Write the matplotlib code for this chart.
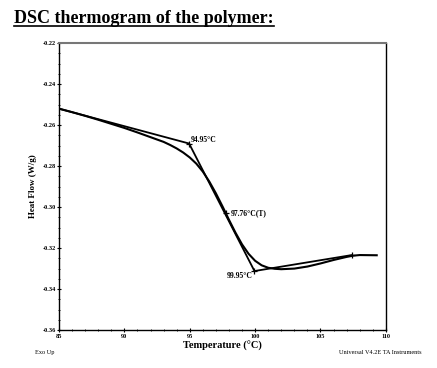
import numpy as np
import matplotlib.pyplot as plt
from matplotlib.ticker import MultipleLocator

# DSC curve
temp = [85, 86, 87, 88, 89, 90, 91, 92, 93, 93.5, 94, 94.5, 95, 95.5, 96, 96.5,
        97, 97.5, 97.76, 98, 98.5, 99, 99.5, 100, 100.5, 101, 101.5, 102, 103,
        104, 105, 106, 107, 107.5, 108, 109.3]
heat = [-0.2520, -0.2537, -0.2555, -0.2574, -0.2594, -0.2614, -0.2636, -0.2659,
        -0.2682, -0.2697, -0.2714, -0.2734, -0.2758, -0.2788, -0.2827, -0.2876,
        -0.2933, -0.2996, -0.3030, -0.3062, -0.3125, -0.3182, -0.3228, -0.3262,
        -0.3284, -0.3296, -0.3301, -0.3303, -0.3300, -0.3290, -0.3275, -0.3258,
        -0.3243, -0.3237, -0.3234, -0.3235]

# tangent construction
tan_x = [85, 94.95, 99.95, 107.4]
tan_y = [-0.2520, -0.2690, -0.3312, -0.3234]
onset_x, onset_y = 94.95, -0.2690
mid_x, mid_y = 97.76, -0.3030
end_x, end_y = 99.95, -0.3312
mark_x, mark_y = 107.4, -0.3234

plt.rcParams['font.family'] = ['Liberation Serif', 'DejaVu Serif']

fig = plt.figure(figsize=(4.37, 3.68), dpi=100)
ax = fig.add_axes([0.135, 0.103, 0.748, 0.780])

ax.plot(temp, heat, color='black', lw=1.5)
ax.plot(tan_x, tan_y, color='black', lw=1.3)
ax.plot([onset_x, mid_x, end_x, mark_x], [onset_y, mid_y, end_y, mark_y],
        '+', color='black', ms=5, mew=0.9)

ax.text(onset_x + 0.15, onset_y, '94.95°C', fontsize=5.5, fontweight='bold',
        va='bottom', ha='left')
ax.text(mid_x + 0.35, mid_y, '97.76°C(T)', fontsize=5.5, fontweight='bold',
        va='center', ha='left')
ax.text(end_x - 0.15, end_y - 0.0005, '99.95°C', fontsize=5.5, fontweight='bold',
        va='top', ha='right')

ax.set_xlim(85, 110)
ax.set_ylim(-0.36, -0.22)
ax.xaxis.set_major_locator(MultipleLocator(5))
ax.xaxis.set_minor_locator(MultipleLocator(1))
ax.yaxis.set_major_locator(MultipleLocator(0.02))
ax.yaxis.set_minor_locator(MultipleLocator(0.005))
ax.yaxis.set_major_formatter(plt.FuncFormatter(lambda v, p: '%.2f' % v))
ax.tick_params(which='major', direction='inout', length=3, width=0.8,
               labelsize=4.5, pad=1)
ax.tick_params(which='minor', direction='inout', length=2, width=0.6)
for lab in ax.get_xticklabels() + ax.get_yticklabels():
    lab.set_fontweight('bold')

for s in ['left', 'bottom', 'right']:
    ax.spines[s].set_linewidth(1.0)
ax.spines['top'].set_color('#777777')
ax.spines['top'].set_linewidth(1.5)

ax.set_xlabel('Temperature (°C)', fontsize=7.5, fontweight='bold', labelpad=2)
ax.set_ylabel('Heat Flow (W/g)', fontsize=6.5, fontweight='bold', labelpad=4)

fig.text(0.08, 0.042, 'Exo Up', fontsize=4.5, ha='left', va='center')
fig.text(0.965, 0.042, 'Universal V4.2E TA Instruments', fontsize=4.5,
         ha='right', va='center')

title = fig.text(0.032, 0.95, 'DSC thermogram of the polymer:', fontsize=13,
                 fontweight='bold', ha='left', va='center')
fig.canvas.draw()
bb = title.get_window_extent().transformed(fig.transFigure.inverted())
fig.add_artist(plt.Line2D([bb.x0, bb.x1], [bb.y0 + 0.002, bb.y0 + 0.002],
                          color='black', lw=1.2, transform=fig.transFigure))

fig.savefig('out.png', dpi=100)
